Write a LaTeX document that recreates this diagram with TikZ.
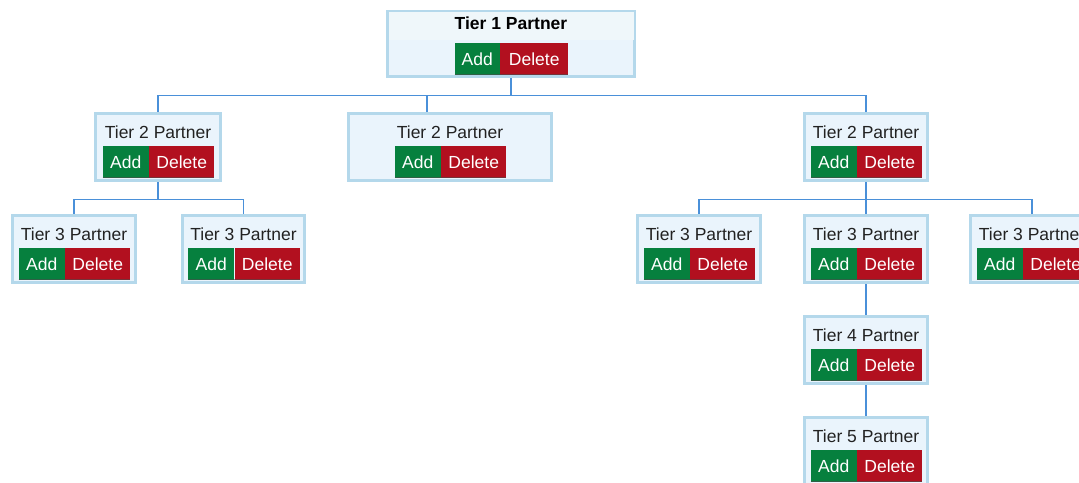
\documentclass[tikz,border=0pt]{standalone}
\usepackage{fontspec}
\setmainfont{Liberation Sans}
\definecolor{boxfill}{HTML}{EAF4FC}
\definecolor{boxtop}{HTML}{EFF7FA}
\definecolor{boxline}{HTML}{B4D8EB}
\definecolor{connblue}{HTML}{4A90D9}
\definecolor{addgreen}{HTML}{06803E}
\definecolor{delred}{HTML}{B2101F}
\definecolor{titletext}{HTML}{222222}
\tikzset{
  pbox/.style={draw=boxline, fill=boxfill, line width=3pt, inner sep=0pt},
  ptitle/.style={inner sep=0pt, text=titletext, font=\fontsize{17.5}{20}\selectfont},
  btn/.style={inner sep=0pt, minimum height=32pt, text=white, font=\fontsize{17.5}{20}\selectfont},
  addbtn/.style={btn, fill=addgreen, minimum width=46pt},
  delbtn/.style={btn, fill=delred, minimum width=65pt},
  btnshadow/.style={draw=black!70, line width=1.5pt, opacity=0.6},
  conn/.style={draw=connblue, line width=1.8pt}
}
\newcommand\partner[5]{%
  \node[pbox, minimum width=#4pt-3pt, minimum height=67pt] (#1) at (#2, #3+35) {};
  \node[ptitle] (#1t) at (#2, #3+20) {#5};
  \node[addbtn, anchor=north east] (#1a) at (#2-9, #3+34) {Add};
  \node[delbtn, anchor=north west] (#1d) at (#1a.north east) {Delete};
  \draw[btnshadow] ([yshift=0.75pt]#1a.south west) -- ([yshift=0.75pt]#1d.south east);
}
\begin{document}
\begin{tikzpicture}[x=1pt, y=-1pt]
\useasboundingbox (0,0) rectangle (1079,482);
\clip (0,0) rectangle (1079,482);
% Tier 1
\node[pbox, minimum width=247pt, minimum height=65pt] (t1) at (511,44) {};
\fill[boxtop] (388.5,11.5) rectangle (633.5,40);
\node[ptitle, font=\fontsize{17.5}{20}\selectfont\bfseries, text=black] (t1t) at (511,23) {Tier 1 Partner};
\node[addbtn, minimum width=45pt, anchor=north east] (t1a) at (500,43) {Add};
\node[delbtn, minimum width=68pt, anchor=north west] (t1d) at (t1a.north east) {Delete};
\draw[btnshadow] ([yshift=0.75pt]t1a.south west) -- ([yshift=0.75pt]t1d.south east);
% Tier 2
\partner{t2a}{158}{112}{128}{Tier 2 Partner}
\partner{t2b}{450}{112}{206}{Tier 2 Partner}
\partner{t2c}{866}{112}{126}{Tier 2 Partner}
% Tier 3
\partner{t3a}{74}{214}{126}{Tier 3 Partner}
\partner{t3b}{243.5}{214}{125}{Tier 3 Partner}
\partner{t3c}{699}{214}{126}{Tier 3 Partner}
\partner{t3d}{866}{214}{126}{Tier 3 Partner}
\partner{t3e}{1032}{214}{126}{Tier 3 Partner}
% Tier 4, 5
\partner{t4}{866}{315}{126}{Tier 4 Partner}
\partner{t5}{866}{416}{126}{Tier 5 Partner}
% connectors
\draw[conn] (t1.south) -- ++(0,17.5) coordinate (bus1);
\draw[conn] (bus1) -| (t2a.north);
\draw[conn] (bus1) -| ([xshift=-23pt]t2b.north);
\draw[conn] (bus1) -| (t2c.north);
\draw[conn] (t2a.south) -- ++(0,17.5) coordinate (bus2);
\draw[conn] (bus2) -| (t3a.north);
\draw[conn] (bus2) -| (t3b.north);
\draw[conn] (t2c.south) -- ++(0,17.5) coordinate (bus3);
\draw[conn] (bus3) -| (t3c.north);
\draw[conn] (bus3) -- (t3d.north);
\draw[conn] (bus3) -| (t3e.north);
\draw[conn] (t3d.south) -- (t4.north);
\draw[conn] (t4.south) -- (t5.north);
\end{tikzpicture}
\end{document}
